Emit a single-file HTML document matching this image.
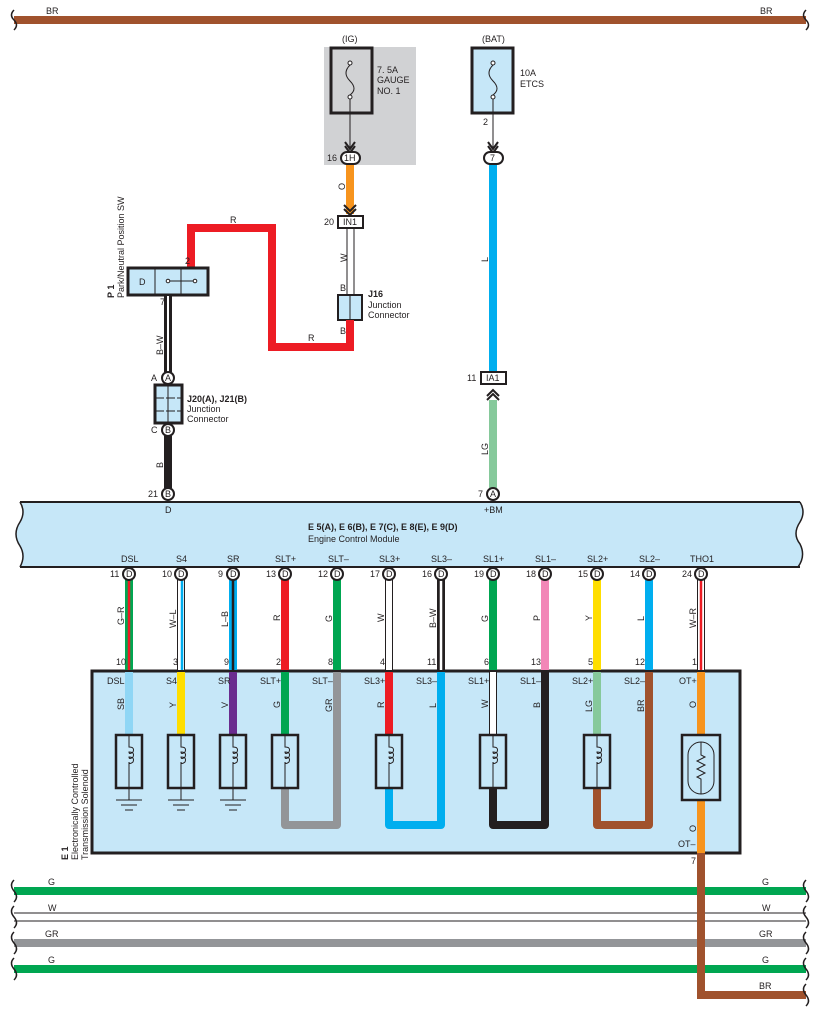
<!DOCTYPE html>
<html><head><meta charset="utf-8"><style>
html,body{margin:0;padding:0;background:#fff}
svg{display:block;font-family:"Liberation Sans",Arial,sans-serif}
text{font-size:9px;fill:#231f20}
</style></head><body>
<svg width="818" height="1017" viewBox="0 0 818 1017" xmlns="http://www.w3.org/2000/svg">
<!-- top BR wire -->
<line x1="14" y1="20" x2="806" y2="20" stroke="#a0522d" stroke-width="8"/>
<path d="M14 10 q-5 5 0 10 q5 5 0 10" fill="none" stroke="#231f20" stroke-width="1.5"/>
<path d="M806 10 q-5 5 0 10 q5 5 0 10" fill="none" stroke="#231f20" stroke-width="1.5"/>
<text x="46" y="14">BR</text><text x="760" y="14">BR</text>

<!-- IG fuse -->
<rect x="324" y="47" width="92" height="118" fill="#d1d2d4"/>
<rect x="331" y="48" width="41" height="65" fill="none" stroke="#231f20" stroke-width="3"/>
<text x="342" y="42">(IG)</text>
<circle cx="350" cy="63" r="2" fill="#fff" stroke="#231f20"/><circle cx="350" cy="97" r="2" fill="#fff" stroke="#231f20"/>
<path d="M350 65 q-8 8 0 16 q8 8 0 14" fill="none" stroke="#231f20"/>
<line x1="350" y1="99" x2="350" y2="150" stroke="#231f20"/>
<path d="M345 142 l5 7 l5 -7 M345 146 l5 7 l5 -7" fill="none" stroke="#231f20" stroke-width="2"/>
<text x="377" y="73">7. 5A</text><text x="377" y="83">GAUGE</text><text x="377" y="94">NO. 1</text>
<line x1="350" y1="164" x2="350" y2="214" stroke="#f7941d" stroke-width="8"/>
<rect x="341" y="152" width="19" height="12" rx="6" fill="#fff" stroke="#231f20" stroke-width="2"/>
<text x="344" y="161">1H</text><text x="327" y="161">16</text>
<text x="0" y="0" transform="translate(345,190) rotate(-90)">O</text>
<path d="M344 205 l6 6 l6 -6 M344 209 l6 6 l6 -6" fill="none" stroke="#231f20" stroke-width="2"/>
<rect x="338" y="216" width="25" height="12" fill="#fff" stroke="#231f20" stroke-width="2"/>
<text x="343" y="225">IN1</text><text x="324" y="225">20</text>
<line x1="347" y1="229" x2="347" y2="295" stroke="#231f20"/><line x1="354" y1="229" x2="354" y2="295" stroke="#231f20"/>
<text x="0" y="0" transform="translate(347,262) rotate(-90)">W</text>
<text x="340" y="291">B</text>
<rect x="338" y="295" width="24" height="25" fill="#c6e7f8" stroke="#231f20" stroke-width="2"/>
<line x1="350" y1="295" x2="350" y2="320" stroke="#231f20"/>
<text x="368" y="297" style="font-weight:bold">J16</text><text x="368" y="308">Junction</text><text x="368" y="318">Connector</text>
<text x="340" y="334">B</text>
<!-- red wire -->
<path d="M350 320 V347 H272 V228 H191 V268" fill="none" stroke="#ed1c24" stroke-width="8"/>
<text x="230" y="223">R</text><text x="308" y="341">R</text>

<!-- BAT fuse -->
<rect x="472" y="48" width="41" height="65" fill="#c6e7f8" stroke="#231f20" stroke-width="3"/>
<text x="482" y="42">(BAT)</text>
<circle cx="493" cy="63" r="2" fill="#fff" stroke="#231f20"/><circle cx="493" cy="97" r="2" fill="#fff" stroke="#231f20"/>
<path d="M493 65 q-8 8 0 16 q8 8 0 14" fill="none" stroke="#231f20"/>
<line x1="493" y1="99" x2="493" y2="150" stroke="#231f20"/>
<path d="M488 142 l5 7 l5 -7 M488 146 l5 7 l5 -7" fill="none" stroke="#231f20" stroke-width="2"/>
<text x="520" y="76">10A</text><text x="520" y="87">ETCS</text>
<text x="483" y="125">2</text>
<line x1="493" y1="164" x2="493" y2="372" stroke="#00aeef" stroke-width="8"/>
<rect x="484" y="152" width="19" height="12" rx="6" fill="#fff" stroke="#231f20" stroke-width="2"/>
<text x="490" y="161">7</text>
<text x="0" y="0" transform="translate(488,262) rotate(-90)">L</text>
<rect x="481" y="372" width="25" height="12" fill="#fff" stroke="#231f20" stroke-width="2"/>
<text x="486" y="381">IA1</text><text x="467" y="381">11</text>
<path d="M487 396 l6 -6 l6 6 M487 400 l6 -6 l6 6" fill="none" stroke="#231f20" stroke-width="2"/>
<line x1="493" y1="400" x2="493" y2="488" stroke="#86c99b" stroke-width="8"/>
<text x="0" y="0" transform="translate(488,455) rotate(-90)">LG</text>
<circle cx="493" cy="494" r="6" fill="#fff" stroke="#231f20" stroke-width="2"/><text x="490" y="497">A</text><text x="478" y="497">7</text>

<!-- P1 -->
<rect x="128" y="268" width="80" height="27" fill="#c6e7f8" stroke="#231f20" stroke-width="3"/>
<line x1="155" y1="268" x2="155" y2="295" stroke="#231f20"/><line x1="181" y1="268" x2="181" y2="295" stroke="#231f20"/>
<text x="139" y="285">D</text>
<line x1="168" y1="281" x2="195" y2="281" stroke="#231f20"/>
<circle cx="168" cy="281" r="1.8" fill="#fff" stroke="#231f20"/><circle cx="195" cy="281" r="1.8" fill="#fff" stroke="#231f20"/>
<text x="185" y="264">2</text><text x="160" y="305">7</text>
<text x="0" y="0" transform="translate(114,298) rotate(-90)" style="font-weight:bold">P 1</text>
<text x="0" y="0" transform="translate(124,298) rotate(-90)">Park/Neutral Position SW</text>
<line x1="168" y1="296" x2="168" y2="372" stroke="#231f20" stroke-width="8"/>
<line x1="168" y1="296" x2="168" y2="372" stroke="#fff" stroke-width="2"/>
<text x="0" y="0" transform="translate(163,355) rotate(-90)">B–W</text>
<circle cx="168" cy="378" r="6" fill="#fff" stroke="#231f20" stroke-width="2"/><text x="165" y="381">A</text><text x="151" y="381">A</text>
<rect x="155" y="385" width="27" height="38" fill="#c6e7f8" stroke="#231f20" stroke-width="3"/>
<line x1="168" y1="385" x2="168" y2="423" stroke="#231f20"/>
<line x1="155" y1="398" x2="182" y2="398" stroke="#231f20" stroke-dasharray="9 2"/>
<line x1="155" y1="411" x2="182" y2="411" stroke="#231f20" stroke-dasharray="9 2"/>
<text x="187" y="402" style="font-weight:bold">J20(A), J21(B)</text><text x="187" y="412">Junction</text><text x="187" y="422">Connector</text>
<line x1="168" y1="436" x2="168" y2="488" stroke="#231f20" stroke-width="8"/>
<circle cx="168" cy="430" r="6" fill="#fff" stroke="#231f20" stroke-width="2"/><text x="165" y="433">B</text><text x="151" y="433">C</text>
<text x="0" y="0" transform="translate(163,468) rotate(-90)">B</text>
<circle cx="168" cy="494" r="6" fill="#fff" stroke="#231f20" stroke-width="2"/><text x="165" y="497">B</text><text x="148" y="497">21</text>

<!-- ECM -->
<path d="M20 502 H800 q6 10 0 20 q-8 12 0 22 q6 12 -2 22 H20 q6 -10 0 -20 q-8 -12 0 -24 q6 -10 0 -20 Z" fill="#c6e7f8"/>
<line x1="20" y1="502" x2="800" y2="502" stroke="#231f20" stroke-width="2"/>
<line x1="20" y1="567" x2="800" y2="567" stroke="#231f20" stroke-width="2"/>
<path d="M20 502 q6 10 0 20 q-8 12 0 24 q6 10 0 21" fill="none" stroke="#231f20" stroke-width="1.5"/>
<path d="M800 502 q6 10 0 20 q-8 12 0 22 q6 12 -2 23" fill="none" stroke="#231f20" stroke-width="1.5"/>
<text x="165" y="513">D</text><text x="484" y="513">+BM</text>
<text x="308" y="530" style="font-weight:bold">E 5(A), E 6(B), E 7(C), E 8(E), E 9(D)</text>
<text x="308" y="542">Engine Control Module</text>

<!-- E1 box -->
<rect x="92" y="671" width="648" height="182" fill="#c6e7f8" stroke="#231f20" stroke-width="3"/>
<text x="0" y="0" transform="translate(68,860) rotate(-90)" style="font-weight:bold">E 1</text>
<text x="0" y="0" transform="translate(78,860) rotate(-90)">Electronically Controlled</text>
<text x="0" y="0" transform="translate(88,860) rotate(-90)">Transmission Solenoid</text>

<!-- upper wires -->
<g stroke-width="8" fill="none">
<line x1="129" y1="574" x2="129" y2="670" stroke="#00a651"/>
<line x1="181" y1="574" x2="181" y2="670" stroke="#231f20"/>
<line x1="233" y1="574" x2="233" y2="670" stroke="#00aeef"/>
<line x1="285" y1="574" x2="285" y2="670" stroke="#ed1c24"/>
<line x1="337" y1="574" x2="337" y2="670" stroke="#00a651"/>
<line x1="389" y1="574" x2="389" y2="670" stroke="#231f20"/>
<line x1="441" y1="574" x2="441" y2="670" stroke="#231f20"/>
<line x1="493" y1="574" x2="493" y2="670" stroke="#00a651"/>
<line x1="545" y1="574" x2="545" y2="670" stroke="#f287b7"/>
<line x1="597" y1="574" x2="597" y2="670" stroke="#ffde00"/>
<line x1="649" y1="574" x2="649" y2="670" stroke="#00aeef"/>
<line x1="701" y1="574" x2="701" y2="670" stroke="#231f20"/>
</g>
<g stroke-width="2.5">
<line x1="129" y1="574" x2="129" y2="670" stroke="#ed1c24"/>
<line x1="181" y1="574" x2="181" y2="670" stroke="#fff" stroke-width="6"/>
<line x1="182" y1="574" x2="182" y2="670" stroke="#00aeef"/>
<line x1="233" y1="574" x2="233" y2="670" stroke="#231f20"/>
<line x1="389" y1="574" x2="389" y2="670" stroke="#fff" stroke-width="6"/>
<line x1="441" y1="574" x2="441" y2="670" stroke="#fff"/>
<line x1="701" y1="574" x2="701" y2="670" stroke="#fff" stroke-width="6"/>
<line x1="701" y1="574" x2="701" y2="670" stroke="#ed1c24"/>
</g>
<g font-size="9">
<text x="121" y="562">DSL</text><text x="176" y="562">S4</text><text x="227" y="562">SR</text><text x="275" y="562">SLT+</text><text x="328" y="562">SLT–</text><text x="379" y="562">SL3+</text><text x="431" y="562">SL3–</text><text x="483" y="562">SL1+</text><text x="535" y="562">SL1–</text><text x="587" y="562">SL2+</text><text x="639" y="562">SL2–</text><text x="690" y="562">THO1</text>
</g>
<g fill="#fff" stroke="#231f20" stroke-width="2">
<circle cx="129" cy="574" r="6"/><circle cx="181" cy="574" r="6"/><circle cx="233" cy="574" r="6"/><circle cx="285" cy="574" r="6"/><circle cx="337" cy="574" r="6"/><circle cx="389" cy="574" r="6"/><circle cx="441" cy="574" r="6"/><circle cx="493" cy="574" r="6"/><circle cx="545" cy="574" r="6"/><circle cx="597" cy="574" r="6"/><circle cx="649" cy="574" r="6"/><circle cx="701" cy="574" r="6"/>
</g>
<g>
<text x="126" y="577">D</text><text x="178" y="577">D</text><text x="230" y="577">D</text><text x="282" y="577">D</text><text x="334" y="577">D</text><text x="386" y="577">D</text><text x="438" y="577">D</text><text x="490" y="577">D</text><text x="542" y="577">D</text><text x="594" y="577">D</text><text x="646" y="577">D</text><text x="698" y="577">D</text>
<text x="110" y="577">11</text><text x="162" y="577">10</text><text x="218" y="577">9</text><text x="266" y="577">13</text><text x="318" y="577">12</text><text x="370" y="577">17</text><text x="422" y="577">16</text><text x="474" y="577">19</text><text x="526" y="577">18</text><text x="578" y="577">15</text><text x="630" y="577">14</text><text x="682" y="577">24</text>
<text x="116" y="665">10</text><text x="173" y="665">3</text><text x="224" y="665">9</text><text x="276" y="665">2</text><text x="328" y="665">8</text><text x="380" y="665">4</text><text x="427" y="665">11</text><text x="484" y="665">6</text><text x="531" y="665">13</text><text x="588" y="665">5</text><text x="635" y="665">12</text><text x="692" y="665">1</text>
<text transform="translate(124,625) rotate(-90)">G–R</text><text transform="translate(176,628) rotate(-90)">W–L</text><text transform="translate(228,627) rotate(-90)">L–B</text><text transform="translate(280,621) rotate(-90)">R</text><text transform="translate(332,622) rotate(-90)">G</text><text transform="translate(384,622) rotate(-90)">W</text><text transform="translate(436,628) rotate(-90)">B–W</text><text transform="translate(488,622) rotate(-90)">G</text><text transform="translate(540,621) rotate(-90)">P</text><text transform="translate(592,621) rotate(-90)">Y</text><text transform="translate(644,621) rotate(-90)">L</text><text transform="translate(696,628) rotate(-90)">W–R</text>
</g>

<!-- lower wires -->
<g stroke-width="8" fill="none" stroke-linejoin="round">
<line x1="129" y1="672" x2="129" y2="735" stroke="#8fd6f5"/>
<line x1="181" y1="672" x2="181" y2="735" stroke="#ffde00"/>
<line x1="233" y1="672" x2="233" y2="735" stroke="#6a2c8f"/>
<line x1="285" y1="672" x2="285" y2="735" stroke="#00a651"/>
<path d="M285 788 V825 H337 V672" stroke="#939598"/>
<line x1="389" y1="672" x2="389" y2="735" stroke="#ed1c24"/>
<path d="M389 788 V825 H441 V672" stroke="#00aeef"/>
<line x1="493" y1="672" x2="493" y2="735" stroke="#231f20"/>
<line x1="493" y1="672" x2="493" y2="735" stroke="#fff" stroke-width="6"/>
<path d="M493 788 V825 H545 V672" stroke="#231f20"/>
<line x1="597" y1="672" x2="597" y2="735" stroke="#86c99b"/>
<path d="M597 788 V825 H649 V672" stroke="#a0522d"/>
<line x1="701" y1="672" x2="701" y2="735" stroke="#f7941d"/>
<line x1="701" y1="800" x2="701" y2="853" stroke="#f7941d"/>
</g>
<g>
<text x="107" y="684">DSL</text><text x="166" y="684">S4</text><text x="218" y="684">SR</text><text x="260" y="684">SLT+</text><text x="312" y="684">SLT–</text><text x="364" y="684">SL3+</text><text x="416" y="684">SL3–</text><text x="468" y="684">SL1+</text><text x="520" y="684">SL1–</text><text x="572" y="684">SL2+</text><text x="624" y="684">SL2–</text><text x="679" y="684">OT+</text>
<text transform="translate(124,710) rotate(-90)">SB</text><text transform="translate(176,708) rotate(-90)">Y</text><text transform="translate(228,708) rotate(-90)">V</text><text transform="translate(280,708) rotate(-90)">G</text><text transform="translate(332,712) rotate(-90)">GR</text><text transform="translate(384,708) rotate(-90)">R</text><text transform="translate(436,708) rotate(-90)">L</text><text transform="translate(488,708) rotate(-90)">W</text><text transform="translate(540,708) rotate(-90)">B</text><text transform="translate(592,712) rotate(-90)">LG</text><text transform="translate(644,712) rotate(-90)">BR</text><text transform="translate(696,708) rotate(-90)">O</text>
<text transform="translate(696,832) rotate(-90)">O</text><text x="678" y="847">OT–</text><text x="691" y="864">7</text>
</g>
<!-- solenoids -->
<g fill="#c6e7f8" stroke="#231f20">
<g stroke-width="2.5">
<rect x="116" y="735" width="26" height="53"/><rect x="168" y="735" width="26" height="53"/><rect x="220" y="735" width="26" height="53"/>
<rect x="272" y="735" width="26" height="53"/><rect x="376" y="735" width="26" height="53"/><rect x="480" y="735" width="26" height="53"/><rect x="584" y="735" width="26" height="53"/>
<rect x="682" y="735" width="38" height="65"/>
</g>
</g>
<g fill="none" stroke="#231f20" stroke-width="1">
<path d="M129 735 V747 q6 0 4 5 q-4 3 -4 0 q6 0 4 5 q-4 3 -4 0 q6 0 4 5 q-4 3 -4 0 V788"/>
<path d="M181 735 V747 q6 0 4 5 q-4 3 -4 0 q6 0 4 5 q-4 3 -4 0 q6 0 4 5 q-4 3 -4 0 V788"/>
<path d="M233 735 V747 q6 0 4 5 q-4 3 -4 0 q6 0 4 5 q-4 3 -4 0 q6 0 4 5 q-4 3 -4 0 V788"/>
<path d="M285 735 V747 q6 0 4 5 q-4 3 -4 0 q6 0 4 5 q-4 3 -4 0 q6 0 4 5 q-4 3 -4 0 V788"/>
<path d="M389 735 V747 q6 0 4 5 q-4 3 -4 0 q6 0 4 5 q-4 3 -4 0 q6 0 4 5 q-4 3 -4 0 V788"/>
<path d="M493 735 V747 q6 0 4 5 q-4 3 -4 0 q6 0 4 5 q-4 3 -4 0 q6 0 4 5 q-4 3 -4 0 V788"/>
<path d="M597 735 V747 q6 0 4 5 q-4 3 -4 0 q6 0 4 5 q-4 3 -4 0 q6 0 4 5 q-4 3 -4 0 V788"/>
<path d="M129 788 V800 M116 800 H142 M121 805 H137 M125 810 H133"/>
<path d="M181 788 V800 M168 800 H194 M173 805 H189 M177 810 H185"/>
<path d="M233 788 V800 M220 800 H246 M225 805 H241 M229 810 H237"/>
<rect x="688" y="742" width="26" height="52" rx="13"/>
<path d="M701 742 V755 l4 2 l-8 4 l8 4 l-8 4 l8 4 l-8 4 l4 2 V794"/>
</g>

<!-- bottom wires -->
<line x1="14" y1="891" x2="806" y2="891" stroke="#00a651" stroke-width="8"/>
<line x1="14" y1="913" x2="806" y2="913" stroke="#231f20" stroke-width="1"/>
<line x1="14" y1="921" x2="806" y2="921" stroke="#231f20" stroke-width="1"/>
<line x1="14" y1="943" x2="806" y2="943" stroke="#939598" stroke-width="8"/>
<line x1="14" y1="969" x2="806" y2="969" stroke="#00a651" stroke-width="8"/>
<path d="M701 853 V995 H806" fill="none" stroke="#a0522d" stroke-width="8"/>
<g fill="none" stroke="#231f20" stroke-width="1.5">
<path d="M14 880 q-5 5 0 11 q5 6 0 11"/><path d="M14 906 q-5 5 0 11 q5 6 0 11"/><path d="M14 932 q-5 5 0 11 q5 6 0 11"/><path d="M14 958 q-5 5 0 11 q5 6 0 11"/>
<path d="M806 880 q-5 5 0 11 q5 6 0 11"/><path d="M806 906 q-5 5 0 11 q5 6 0 11"/><path d="M806 932 q-5 5 0 11 q5 6 0 11"/><path d="M806 958 q-5 5 0 11 q5 6 0 11"/><path d="M806 984 q-5 5 0 11 q5 6 0 11"/>
</g>
<text x="48" y="885">G</text><text x="48" y="911">W</text><text x="45" y="937">GR</text><text x="48" y="963">G</text>
<text x="762" y="885">G</text><text x="762" y="911">W</text><text x="759" y="937">GR</text><text x="762" y="963">G</text><text x="759" y="989">BR</text>
</svg>
</body></html>
